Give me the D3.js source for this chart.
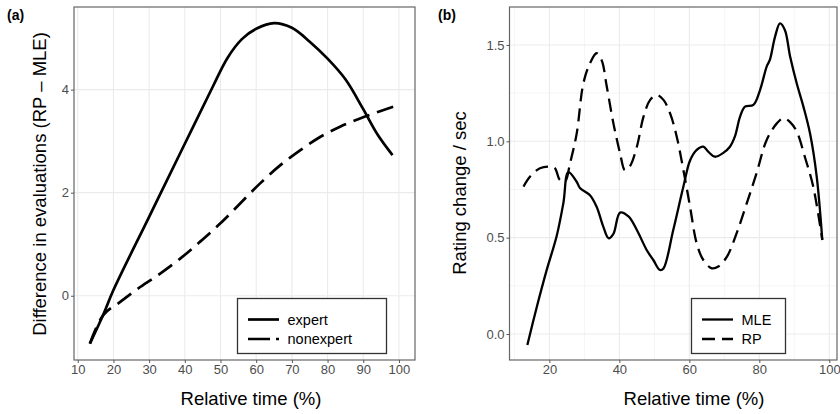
<!DOCTYPE html>
<html>
<head>
<meta charset="utf-8">
<script src="https://cdn.jsdelivr.net/npm/d3@7"></script>
<style>
  body { margin: 0; background: #fff; }
  svg { font-family: "Liberation Sans", Arial, sans-serif; }
  .tick text { fill: #4d4d4d; font-size: 13px; }
  .tick line { stroke: #555; }
  .domain { display: none; }
</style>
</head>
<body>
<div id="chart"></div>
<script>
// panel (a): difference in evaluations
var expertX = [13.4, 17.2, 20, 30, 40, 48, 52, 56, 60, 65, 70, 75, 80, 85, 90, 94, 98.2];
var expertY = [-0.93, -0.36, 0.11, 1.53, 2.95, 4.08, 4.62, 4.98, 5.18, 5.29, 5.20, 4.93, 4.60, 4.20, 3.62, 3.13, 2.73];
var nonexpertX = [13.4, 17.2, 21.9, 27.5, 33.1, 38.7, 44.3, 49.9, 55.5, 61.1, 66.7, 72.3, 77.9, 83.5, 89.1, 94.7, 99.8];
var nonexpertY = [-0.93, -0.37, -0.12, 0.17, 0.43, 0.72, 1.05, 1.40, 1.79, 2.18, 2.53, 2.82, 3.08, 3.28, 3.44, 3.58, 3.70];

// panel (b): rating change per second
var mleX = [13.7, 16.4, 19.2, 22.1, 24.0, 25.4, 27.8, 28.8, 31.6, 33.5, 35.4, 36.9, 38.3, 40.2, 42.6, 45.0, 47.8, 49.7, 51.6, 52.6, 55.4, 58.3, 60.2, 62.1, 64.0, 65.4, 67.3, 69.7, 71.6, 73.0, 74.5, 75.9, 78.3, 80.2, 82.1, 83.0, 84.5, 85.9, 87.3, 88.8, 90.7, 92.6, 94.5, 96.4, 98.0];
var mleY = [-0.057, 0.14, 0.33, 0.51, 0.68, 0.84, 0.79, 0.756, 0.72, 0.66, 0.557, 0.497, 0.52, 0.63, 0.61, 0.54, 0.436, 0.384, 0.332, 0.34, 0.54, 0.765, 0.90, 0.955, 0.972, 0.946, 0.92, 0.94, 0.972, 1.024, 1.128, 1.18, 1.189, 1.266, 1.388, 1.422, 1.543, 1.612, 1.578, 1.44, 1.30, 1.18, 1.04, 0.817, 0.488];
var rpX = [12.6, 14.5, 17.3, 20.2, 21.6, 23.0, 24.5, 25.9, 27.8, 29.7, 31.6, 33.5, 34.95, 36.4, 38.3, 40.2, 41.6, 43.0, 45.0, 46.9, 48.8, 50.7, 52.6, 54.5, 56.4, 58.3, 60.2, 62.1, 64.0, 66.4, 68.3, 70.7, 73.5, 76.4, 79.2, 82.1, 85.0, 86.9, 88.8, 90.7, 93.0, 95.4, 98.0];
var rpY = [0.765, 0.817, 0.86, 0.868, 0.86, 0.80, 0.794, 0.886, 1.04, 1.30, 1.405, 1.457, 1.42, 1.284, 1.093, 0.938, 0.85, 0.87, 0.972, 1.128, 1.215, 1.24, 1.215, 1.145, 1.024, 0.851, 0.661, 0.47, 0.384, 0.341, 0.35, 0.40, 0.522, 0.678, 0.834, 1.007, 1.093, 1.12, 1.10, 1.05, 0.92, 0.765, 0.488];

var ticksA_X = [10, 20, 30, 40, 50, 60, 70, 80, 90, 100];
var ticksA_Y = [0, 2, 4];
var ticksB_X = [20, 40, 60, 80, 100];
var minorB_X = [10, 30, 50, 70, 90];
var ticksB_Y = [0, 0.5, 1.0, 1.5];
var minorB_Y = [0.25, 0.75, 1.25];

var width = 840, height = 414;
var svg = d3.select("#chart").append("svg").attr("width", width).attr("height", height);

function zip(xs, ys) {
  return xs.map(function (d, i) { return { x: d, y: ys[i] }; });
}

function panel(opt) {
  var x = d3.scaleLinear().domain(opt.xDomain).range([opt.left, opt.right]);
  var y = d3.scaleLinear().domain(opt.yDomain).range([opt.bottom, opt.top]);
  var g = svg.append("g");

  // grid
  g.selectAll(".minx").data(opt.minorX).enter().append("line")
    .attr("x1", x).attr("x2", x).attr("y1", opt.top).attr("y2", opt.bottom)
    .attr("stroke", "#f3f3f3").attr("stroke-width", 0.8);
  g.selectAll(".miny").data(opt.minorY).enter().append("line")
    .attr("y1", y).attr("y2", y).attr("x1", opt.left).attr("x2", opt.right)
    .attr("stroke", "#f3f3f3").attr("stroke-width", 0.8);
  g.selectAll(".gx").data(opt.ticksX).enter().append("line")
    .attr("x1", x).attr("x2", x).attr("y1", opt.top).attr("y2", opt.bottom)
    .attr("stroke", "#ebebeb").attr("stroke-width", 1.1);
  g.selectAll(".gy").data(opt.ticksY).enter().append("line")
    .attr("y1", y).attr("y2", y).attr("x1", opt.left).attr("x2", opt.right)
    .attr("stroke", "#ebebeb").attr("stroke-width", 1.1);

  // lines
  var line = d3.line()
    .x(function (d) { return x(d.x); })
    .y(function (d) { return y(d.y); })
    .curve(d3.curveCatmullRom.alpha(0.5));
  opt.series.forEach(function (s) {
    g.append("path")
      .datum(s.data)
      .attr("fill", "none")
      .attr("stroke", "#000")
      .attr("stroke-width", opt.lw)
      .attr("stroke-dasharray", s.dash)
      .attr("d", line);
  });

  // border
  g.append("rect")
    .attr("x", opt.left).attr("y", opt.top)
    .attr("width", opt.right - opt.left).attr("height", opt.bottom - opt.top)
    .attr("fill", "none").attr("stroke", "#666").attr("stroke-width", 1.2);

  // axes
  g.append("g").attr("transform", "translate(0," + opt.bottom + ")")
    .call(d3.axisBottom(x).tickValues(opt.ticksX).tickSize(3).tickPadding(2).tickFormat(opt.fmtX));
  g.append("g").attr("transform", "translate(" + opt.left + ",0)")
    .call(d3.axisLeft(y).tickValues(opt.ticksY).tickSize(3).tickPadding(2).tickFormat(opt.fmtY));

  // axis titles
  svg.append("text")
    .attr("x", opt.xTitleX).attr("y", 405)
    .attr("text-anchor", "middle")
    .style("font-size", "18.5px")
    .text("Relative time (%)");
  svg.append("text")
    .attr("transform", "translate(" + opt.yTitleX + "," + opt.yTitleY + ") rotate(-90)")
    .attr("text-anchor", "middle")
    .style("font-size", "18.5px")
    .text(opt.yTitle);

  // tag
  svg.append("text")
    .attr("x", opt.tagX).attr("y", 20)
    .style("font-size", "14px").style("font-weight", "bold")
    .text(opt.tag);

  // legend
  var lg = svg.append("g");
  lg.append("rect")
    .attr("x", opt.legend.x).attr("y", opt.legend.y)
    .attr("width", opt.legend.w).attr("height", opt.legend.h)
    .attr("fill", "#fff").attr("stroke", "#333").attr("stroke-width", 1.3);
  opt.series.forEach(function (s, i) {
    var ly = opt.legend.y + 21 + i * 19.5;
    lg.append("line")
      .attr("x1", opt.legend.x + 10.5).attr("x2", opt.legend.x + 41.5)
      .attr("y1", ly).attr("y2", ly)
      .attr("stroke", "#000").attr("stroke-width", opt.lw)
      .attr("stroke-dasharray", s.legendDash || s.dash);
    lg.append("text")
      .attr("x", opt.legend.x + 50).attr("y", ly + 5)
      .style("font-size", "14.5px")
      .text(s.name);
  });
}

panel({
  left: 74, right: 415, top: 7, bottom: 360,
  xDomain: [8.95, 104.5], yDomain: [-1.247, 5.603],
  ticksX: ticksA_X, ticksY: ticksA_Y, minorX: [], minorY: [],
  fmtX: d3.format("d"), fmtY: d3.format("d"),
  lw: 2.7,
  series: [
    { name: "expert", data: zip(expertX, expertY), dash: null },
    { name: "nonexpert", data: zip(nonexpertX, nonexpertY), dash: "17,8", legendDash: "22,6" }
  ],
  xTitleX: 251, yTitleX: 46, yTitleY: 184,
  yTitle: "Difference in evaluations (RP \u2013 MLE)",
  tag: "(a)", tagX: 7,
  legend: { x: 237.5, y: 298.5, w: 149, h: 55 }
});

panel({
  left: 509.5, right: 837, top: 7, bottom: 360,
  xDomain: [8.6, 102.2], yDomain: [-0.135, 1.697],
  ticksX: ticksB_X, ticksY: ticksB_Y, minorX: minorB_X, minorY: minorB_Y,
  fmtX: d3.format("d"), fmtY: d3.format(".1f"),
  lw: 2.3,
  series: [
    { name: "MLE", data: zip(mleX, mleY), dash: null },
    { name: "RP", data: zip(rpX, rpY), dash: "13,7" }
  ],
  xTitleX: 694, yTitleX: 466, yTitleY: 193,
  yTitle: "Rating change / sec",
  tag: "(b)", tagX: 438,
  legend: { x: 691.5, y: 298.5, w: 94, h: 55 }
});
</script>
</body>
</html>
